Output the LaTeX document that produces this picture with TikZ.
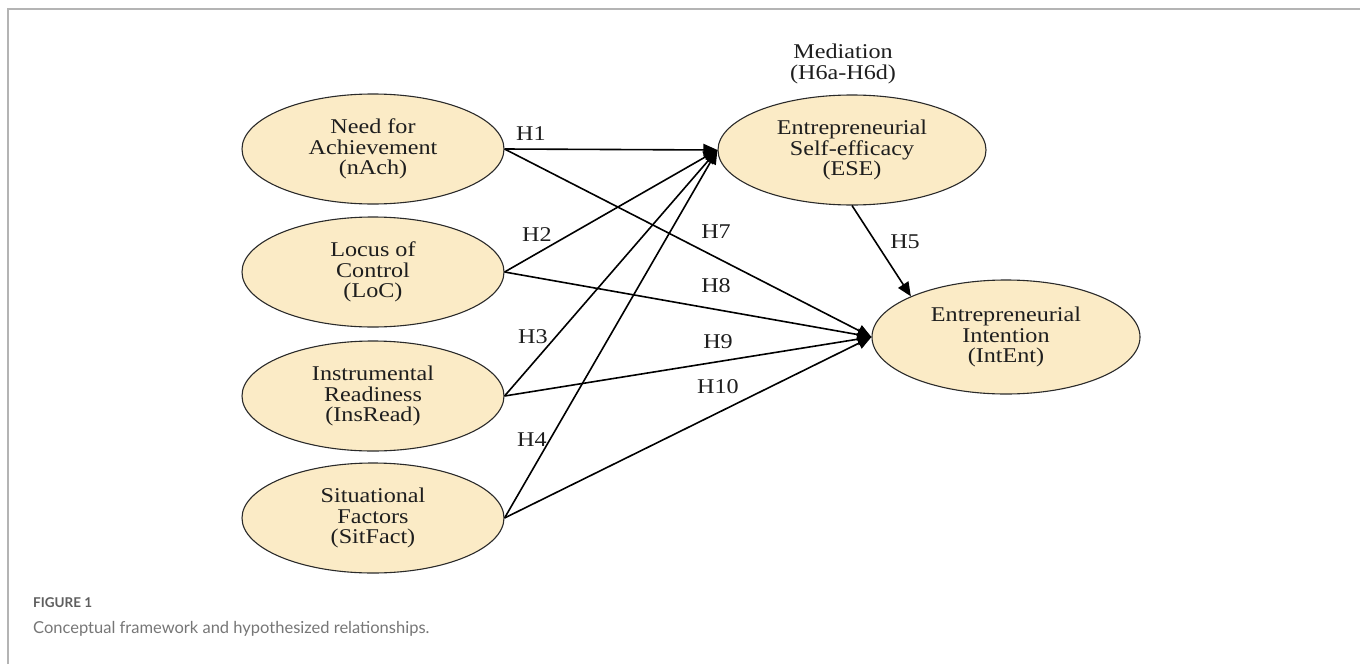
\documentclass[tikz,border=0pt]{standalone}
\usepackage{fontspec}
\setmainfont[FakeStretch=1.15]{Liberation Serif}
\newfontfamily\capfont{Lato}
\usetikzlibrary{shapes.geometric,arrows.meta}
\definecolor{ellfill}{HTML}{FBEBC6}
\definecolor{ellline}{HTML}{2A2A2A}
\definecolor{framegray}{HTML}{B4B4B4}
\definecolor{capgray}{HTML}{5E5E5E}
\definecolor{txtdark}{HTML}{1E1E1E}
\tikzset{
  construct/.style={ellipse, draw=ellline, line width=1.1pt, fill=ellfill,
    minimum width=262pt, minimum height=110pt, inner sep=0pt, align=center,
    text=txtdark, font=\fontsize{21}{20.5}\selectfont},
  hyp/.style={font=\fontsize{21}{21}\selectfont, text=txtdark, inner sep=0pt},
  path/.style={line width=1.6pt, -{Triangle[length=14pt,width=12pt]}},
  frameline/.style={draw=framegray, line width=1.6pt},
}
\begin{document}
\begin{tikzpicture}[x=1pt,y=-1pt]
\useasboundingbox (0,0) rectangle (1360,664);
% frame
\coordinate (fa) at (8,9);
\coordinate (fb) at (1360,9);
\coordinate (fc) at (8,664);
\draw[frameline] (fc) -- (fa) -- (fb);
% constructs
\node[construct] (nach) at (373,149) {Need for\\Achievement\\(nAch)};
\node[construct] (loc) at (373,272) {Locus of\\Control\\(LoC)};
\node[construct] (ins) at (373,396) {Instrumental\\Readiness\\(InsRead)};
\node[construct] (sit) at (373,518) {Situational\\Factors\\(SitFact)};
\node[construct, minimum width=268pt] (ese) at (852,150) {Entrepreneurial\\Self-efficacy\\(ESE)};
\node[construct, minimum width=268pt, minimum height=114pt] (int) at (1006,337) {Entrepreneurial\\Intention\\(IntEnt)};
\node[hyp, align=center] (med) at (843,64) {Mediation\\(H6a-H6d)};
% paths
\draw[path] (nach.east) -- (ese.west);
\draw[path] (loc.east) -- (ese.west);
\draw[path] (ins.east) -- (ese.west);
\draw[path] (sit.east) -- (ese.west);
\draw[path] (nach.east) -- (int.west);
\draw[path] (loc.east) -- (int.west);
\draw[path] (ins.east) -- (int.west);
\draw[path] (sit.east) -- (int.west);
\draw[path] (ese.south) -- (int.north west);
% labels
\node[hyp] (h1) at (531,134) {H1};
\node[hyp] (h2) at (537,235) {H2};
\node[hyp] (h3) at (533,337) {H3};
\node[hyp] (h4) at (532,440) {H4};
\node[hyp] (h7) at (716,232) {H7};
\node[hyp] (h8) at (716,286) {H8};
\node[hyp] (h9) at (718,342) {H9};
\node[hyp] (h10) at (718,387) {H10};
\node[hyp] (h5) at (905,242) {H5};
% caption
\node[anchor=west, inner sep=0pt, text=capgray, font=\capfont\bfseries\fontsize{13.5}{15}\selectfont] (fig) at (33,603) {FIGURE 1};
\node[anchor=west, inner sep=0pt, text=capgray!85, font=\capfont\fontsize{16.5}{18}\selectfont] (cap) at (33,629) {Conceptual framework and hypothesized relationships.};
\end{tikzpicture}
\end{document}
